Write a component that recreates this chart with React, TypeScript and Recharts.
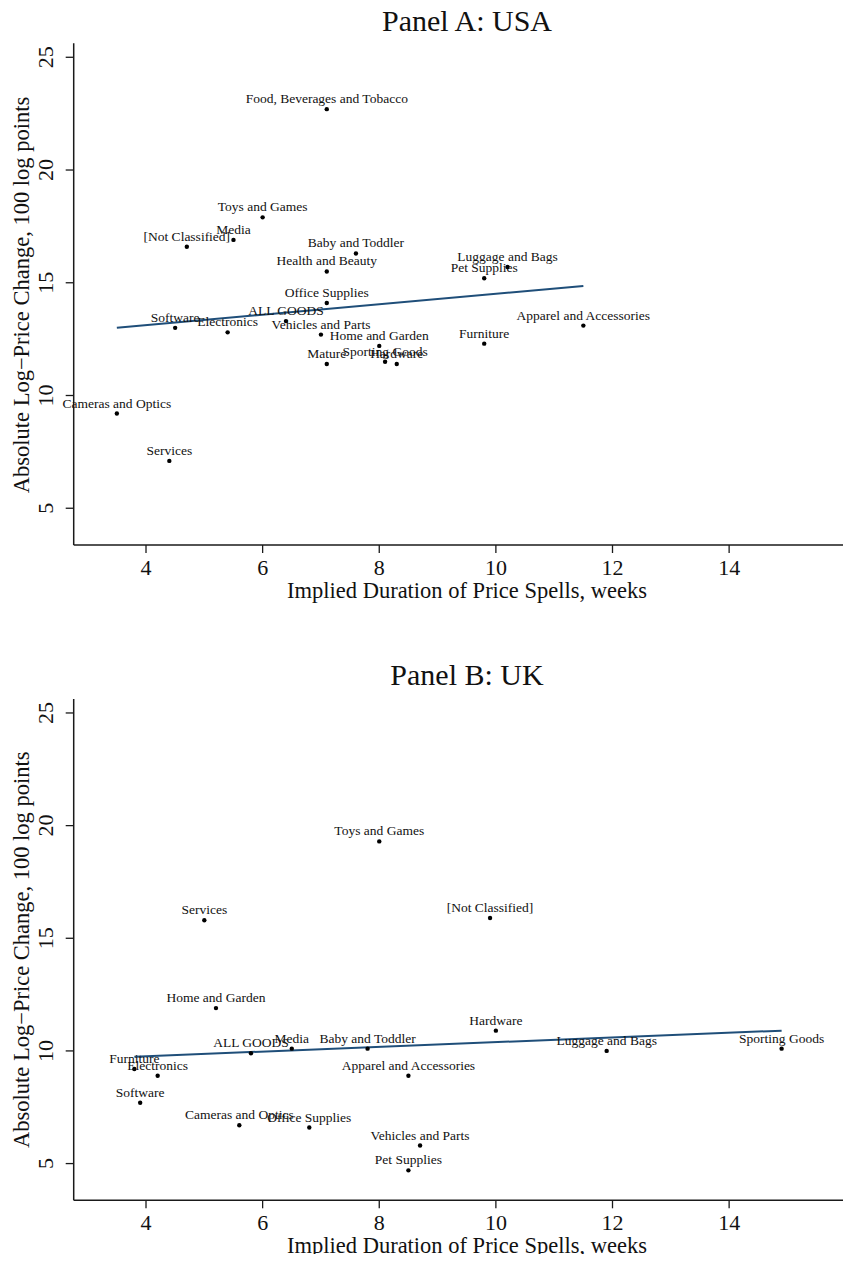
import React from "react";
import {
  ScatterChart,
  Scatter,
  XAxis,
  YAxis,
  ReferenceLine,
} from "recharts";

// ---- Panel A: USA ----
const usaCategories = [
  "Food, Beverages and Tobacco",
  "Toys and Games",
  "Media",
  "[Not Classified]",
  "Baby and Toddler",
  "Health and Beauty",
  "Office Supplies",
  "ALL GOODS",
  "Software",
  "Electronics",
  "Vehicles and Parts",
  "Home and Garden",
  "Mature",
  "Sporting Goods",
  "Hardware",
  "Cameras and Optics",
  "Services",
  "Pet Supplies",
  "Luggage and Bags",
  "Furniture",
  "Apparel and Accessories",
];
const usaDuration = [7.1, 6.0, 5.5, 4.7, 7.6, 7.1, 7.1, 6.4, 4.5, 5.4, 7.0, 8.0, 7.1, 8.1, 8.3, 3.5, 4.4, 9.8, 10.2, 9.8, 11.5];
const usaChange = [22.7, 17.9, 16.9, 16.6, 16.3, 15.5, 14.1, 13.3, 13.0, 12.8, 12.7, 12.2, 11.4, 11.5, 11.4, 9.2, 7.1, 15.2, 15.7, 12.3, 13.1];
const usaFitDuration = [3.5, 11.5];
const usaFitChange = [13.0, 14.86];

// ---- Panel B: UK ----
const ukCategories = [
  "Toys and Games",
  "Services",
  "[Not Classified]",
  "Home and Garden",
  "ALL GOODS",
  "Media",
  "Baby and Toddler",
  "Furniture",
  "Electronics",
  "Apparel and Accessories",
  "Software",
  "Cameras and Optics",
  "Office Supplies",
  "Vehicles and Parts",
  "Pet Supplies",
  "Hardware",
  "Luggage and Bags",
  "Sporting Goods",
];
const ukDuration = [8.0, 5.0, 9.9, 5.2, 5.8, 6.5, 7.8, 3.8, 4.2, 8.5, 3.9, 5.6, 6.8, 8.7, 8.5, 10.0, 11.9, 14.9];
const ukChange = [19.3, 15.8, 15.9, 11.9, 9.9, 10.1, 10.1, 9.2, 8.9, 8.9, 7.7, 6.7, 6.6, 5.8, 4.7, 10.9, 10.0, 10.1];
const ukFitDuration = [3.8, 14.9];
const ukFitChange = [9.74, 10.9];

// ---- Axes ----
const xTicks = [4, 6, 8, 10, 12, 14];
const yTicks = [5, 10, 15, 20, 25];
const X_DOMAIN: [number, number] = [2.76, 16.09];
const Y_DOMAIN: [number, number] = [3.37, 25.62];

const SERIF = '"Liberation Serif", "Times New Roman", Times, serif';
const FIT_COLOR = "#1f4e79";
const FRAME = "#1a1a1a";

type Pt = { name: string; x: number; y: number };

const toPoints = (names: string[], xs: number[], ys: number[]): Pt[] =>
  names.map((name, i) => ({ name, x: xs[i], y: ys[i] }));

const LabeledDot = (props: any) => {
  const { cx, cy, payload } = props;
  if (cx == null || cy == null) return <g />;
  return (
    <g>
      <circle cx={cx} cy={cy} r={2.2} fill="#000" />
      <text
        x={cx}
        y={cy - 6}
        textAnchor="middle"
        fontSize={13.5}
        fontFamily={SERIF}
        fill="#111"
      >
        {payload.name}
      </text>
    </g>
  );
};

const XTick = (props: any) => {
  const { x, y, payload } = props;
  return (
    <text x={x} y={y + 20} textAnchor="middle" fontSize={22} fontFamily={SERIF} fill="#111">
      {payload.value}
    </text>
  );
};

const YTick = (props: any) => {
  const { x, y, payload } = props;
  const tx = x - 10.7;
  return (
    <text
      x={tx}
      y={y}
      transform={`rotate(-90 ${tx} ${y})`}
      textAnchor="middle"
      fontSize={22}
      fontFamily={SERIF}
      fill="#111"
    >
      {payload.value}
    </text>
  );
};

type PanelProps = {
  points: Pt[];
  fitX: number[];
  fitY: number[];
  height: number;
  marginTop: number;
  marginBottom: number;
};

const Panel = ({ points, fitX, fitY, height, marginTop, marginBottom }: PanelProps) => (
  <ScatterChart
    width={843}
    height={height}
    margin={{ top: marginTop, right: 0, bottom: marginBottom, left: 5.7 }}
  >
    <XAxis
      type="number"
      dataKey="x"
      domain={X_DOMAIN}
      ticks={xTicks}
      height={40}
      tickSize={8}
      tickMargin={2}
      axisLine={{ stroke: FRAME, strokeWidth: 1.5 }}
      tickLine={{ stroke: FRAME, strokeWidth: 1.3 }}
      tick={<XTick />}
    />
    {/* top edge of the plot frame */}
    <XAxis
      xAxisId="frameTop"
      orientation="top"
      type="number"
      domain={X_DOMAIN}
      height={0}
      tick={false}
      tickLine={false}
      axisLine={{ stroke: FRAME, strokeWidth: 1.5 }}
    />
    <YAxis
      type="number"
      dataKey="y"
      domain={Y_DOMAIN}
      ticks={yTicks}
      width={60}
      tickSize={8}
      tickMargin={2}
      axisLine={{ stroke: FRAME, strokeWidth: 1.5 }}
      tickLine={{ stroke: FRAME, strokeWidth: 1.3 }}
      tick={<YTick />}
    />
    <ReferenceLine
      segment={[
        { x: fitX[0], y: fitY[0] },
        { x: fitX[1], y: fitY[1] },
      ]}
      stroke={FIT_COLOR}
      strokeWidth={2}
      ifOverflow="visible"
    />
    <Scatter data={points} shape={<LabeledDot />} isAnimationActive={false} />
  </ScatterChart>
);

const Y_TITLE = "Absolute Log\u2212Price Change, 100 log points";
const X_TITLE = "Implied Duration of Price Spells, weeks";

export default function App() {
  const usa = toPoints(usaCategories, usaDuration, usaChange);
  const uk = toPoints(ukCategories, ukDuration, ukChange);
  const textProps = { fontFamily: SERIF, fill: "#111" };
  return (
    <div style={{ position: "relative", width: 843, height: 1246, background: "#fff" }}>
      <style>{`html, body { overflow: hidden; } .recharts-surface { overflow: visible; }`}</style>
      <Panel points={usa} fitX={usaFitDuration} fitY={usaFitChange} height={600} marginTop={35.3} marginBottom={23} />
      <Panel points={uk} fitX={ukFitDuration} fitY={ukFitChange} height={646} marginTop={91} marginBottom={13.7} />
      <svg
        width={843}
        height={1246}
        style={{ position: "absolute", left: 0, top: 0, overflow: "visible", pointerEvents: "none" }}
      >
        <text x={459} y={22.5} textAnchor="middle" fontSize={30} {...textProps}>Panel A: USA</text>
        <text x={459} y={677} textAnchor="middle" fontSize={30} {...textProps}>Panel B: UK</text>
        <text x={459} y={590} textAnchor="middle" fontSize={22.5} {...textProps}>{X_TITLE}</text>
        <text x={459} y={1245} textAnchor="middle" fontSize={22.5} {...textProps}>{X_TITLE}</text>
        <text x={21.3} y={287} transform="rotate(-90 21.3 287)" textAnchor="middle" fontSize={22.5} {...textProps}>{Y_TITLE}</text>
        <text x={21.3} y={941.7} transform="rotate(-90 21.3 941.7)" textAnchor="middle" fontSize={22.5} {...textProps}>{Y_TITLE}</text>
      </svg>
    </div>
  );
}
